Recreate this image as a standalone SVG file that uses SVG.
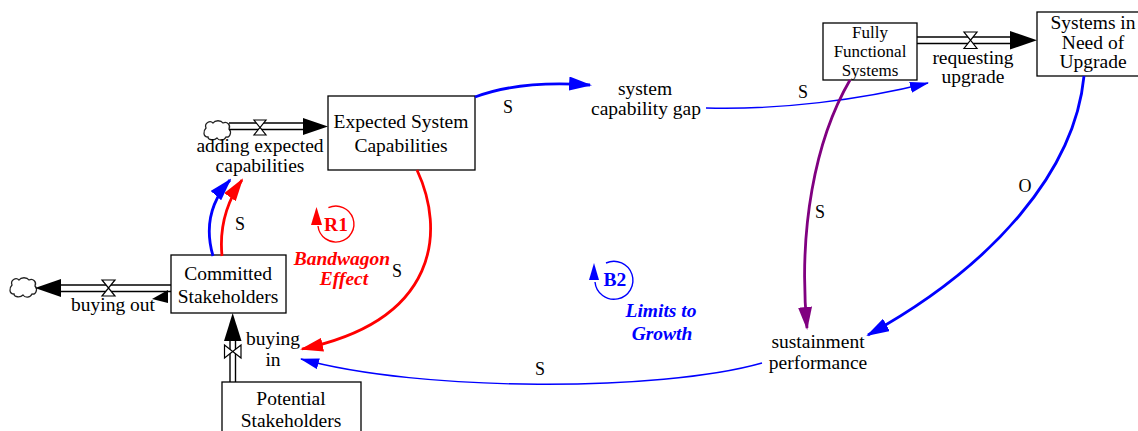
<svg xmlns="http://www.w3.org/2000/svg" width="1138" height="431" viewBox="0 0 1138 431">
<style>
text{font-family:"Liberation Serif","Times New Roman",serif;font-size:19.5px;fill:#000;text-anchor:middle}
.lbl{font-size:18px}
.tight{font-size:17px}
.box{fill:#fff;stroke:#000;stroke-width:1.3}
.pipe{stroke:#000;stroke-width:1.4;fill:none}
.valve{fill:#fff;stroke:#000;stroke-width:1.2}
.cloud{fill:#fff;stroke:#222;stroke-width:1.3}
.thick{fill:none;stroke-width:2.8}
.thin{fill:none;stroke-width:1.4}
.red{stroke:#ff0000}.blue{stroke:#0000ff}.purple{stroke:#800080}
.loopR{fill:#ff0000;font-weight:bold}
.loopB{fill:#0000ff;font-weight:bold}
.it{font-style:italic}
</style>
<defs>
<marker id="aBlue" markerUnits="userSpaceOnUse" viewBox="0 0 23 14" markerWidth="23" markerHeight="14" refX="21" refY="7" orient="auto"><path d="M0,0L23,7L0,14z" fill="#0000ff"/></marker>
<marker id="aRed" markerUnits="userSpaceOnUse" viewBox="0 0 23 14" markerWidth="23" markerHeight="14" refX="21" refY="7" orient="auto"><path d="M0,0L23,7L0,14z" fill="#ff0000"/></marker>
<marker id="aPurple" markerUnits="userSpaceOnUse" viewBox="0 0 23 14" markerWidth="23" markerHeight="14" refX="21" refY="7" orient="auto"><path d="M0,0L23,7L0,14z" fill="#800080"/></marker>
<marker id="aBlueThin" markerUnits="userSpaceOnUse" viewBox="0 0 19 11" markerWidth="19" markerHeight="11" refX="18" refY="5.5" orient="auto"><path d="M0,0L19,5.5L0,11z" fill="#0000ff"/></marker>
<path id="cloud" class="cloud" d="M4,8 C2,3 8,0 11,3 C13,0 19,0 21,3 C25,1 29,5 27,9 C30,12 28,18 24,17 C22,21 17,21 15,18 C12,21 6,20 6,17 C1,17 1,11 4,8 Z"/>
</defs>

<g id="flow-adding">
<use href="#cloud" x="202" y="120"/>
<line class="pipe" x1="229" y1="123" x2="305" y2="123"/>
<line class="pipe" x1="229" y1="129.5" x2="305" y2="129.5"/>
<path d="M303,118L328,126.5L303,135z" fill="#000"/>
<path class="valve" d="M254,120L266,120L260,127.5z M254,135L266,135L260,127.5z"/>
<text x="260" y="152">adding expected</text>
<text x="260" y="172">capabilities</text>
</g>

<g id="flow-buyingout">
<use href="#cloud" x="8" y="277"/>
<line class="pipe" x1="58" y1="285" x2="171" y2="285"/>
<line class="pipe" x1="58" y1="291.5" x2="171" y2="291.5"/>
<path d="M61,279L35,288L61,297z" fill="#000"/>
<path class="valve" d="M102,280L115,280L108.5,288z M102,296L115,296L108.5,288z"/>
<path d="M168,290L168,303L152,299z" fill="#000"/>
<text x="113" y="311">buying out</text>
</g>

<g id="flow-buyingin">
<line class="pipe" x1="230" y1="338" x2="230" y2="382"/>
<line class="pipe" x1="235.5" y1="338" x2="235.5" y2="382"/>
<path d="M224,341L232.7,313L241.5,341z" fill="#000"/>
<path class="valve" d="M224.5,345L224.5,358L232.7,351.5z M241,345L241,358L232.7,351.5z"/>
<text x="273" y="345">buying</text>
<text x="273" y="366">in</text>
</g>

<g id="flow-requesting">
<line class="pipe" x1="917" y1="37" x2="1012" y2="37"/>
<line class="pipe" x1="917" y1="43.5" x2="1012" y2="43.5"/>
<path d="M1010,31L1037,40.2L1010,49.5z" fill="#000"/>
<path class="valve" d="M964,32L977,32L970.5,40.2z M964,48.5L977,48.5L970.5,40.2z"/>
<text x="973" y="64">requesting</text>
<text x="973" y="83">upgrade</text>
</g>

<g id="node-expected">
<rect class="box" x="328" y="96" width="147" height="74"/>
<text x="401" y="128">Expected System</text>
<text x="401" y="152">Capabilities</text>
</g>

<g id="node-committed">
<rect class="box" x="171" y="255" width="115" height="58"/>
<text x="228" y="280">Committed</text>
<text x="228" y="303">Stakeholders</text>
</g>

<g id="node-potential">
<rect class="box" x="222" y="382" width="139" height="60"/>
<text x="291" y="405">Potential</text>
<text x="291" y="427">Stakeholders</text>
</g>

<g id="node-fully">
<rect class="box" x="823" y="23" width="94" height="57"/>
<text class="tight" x="870" y="38">Fully</text>
<text class="tight" x="870" y="57">Functional</text>
<text class="tight" x="870" y="76">Systems</text>
</g>

<g id="node-need">
<rect class="box" x="1037" y="12" width="110" height="64"/>
<text x="1093" y="29">Systems in</text>
<text x="1093" y="49">Need of</text>
<text x="1093" y="68">Upgrade</text>
</g>

<g id="node-gap">
<text x="645" y="95">system</text>
<text x="646" y="115">capability gap</text>
</g>

<g id="node-sustainment">
<text x="818" y="348">sustainment</text>
<text x="818" y="369">performance</text>
</g>

<g id="connectors">
<path class="thick blue" d="M475,97 Q520,80 590,85" marker-end="url(#aBlue)"/>
<path class="thick red" d="M417,170 C445,230 440,320 302,349" marker-end="url(#aRed)"/>
<path class="thin blue" d="M762,363 C660,392 420,392 301,359" marker-end="url(#aBlueThin)"/>
<path class="thick red" d="M222,256 C219,225 228,200 242,180" marker-end="url(#aRed)"/>
<path class="thick blue" d="M213,256 C204,225 212,200 230,180" marker-end="url(#aBlue)"/>
<path class="thin blue" d="M706,108 C780,110 860,100 928,83" marker-end="url(#aBlueThin)"/>
<path class="thick purple" d="M850,80 C815,140 798,230 807,328" marker-end="url(#aPurple)"/>
<path class="thick blue" d="M1084,76 C1075,170 995,265 868,335" marker-end="url(#aBlue)"/>
<text class="lbl" x="508" y="113">S</text>
<text class="lbl" x="803" y="98">S</text>
<text class="lbl" x="820" y="218">S</text>
<text class="lbl" x="1025" y="192">O</text>
<text class="lbl" x="240" y="230">S</text>
<text class="lbl" x="397" y="277">S</text>
<text class="lbl" x="540" y="375">S</text>
</g>

<g id="loop-R1">
<path d="M328.4,207.7 A18,18 0 1 1 318,226" fill="none" stroke="#ff0000" stroke-width="1.4"/>
<path d="M311,225L316.5,207L322,225z" fill="#ff0000"/>
<text class="loopR" x="336" y="231">R1</text>
<text class="loopR it" x="342" y="265">Bandwagon</text>
<text class="loopR it" x="344" y="285">Effect</text>
</g>

<g id="loop-B2">
<path d="M606,263 A19,19 0 1 1 595,282" fill="none" stroke="#0000ff" stroke-width="1.4"/>
<path d="M589,280L594,263L599,280z" fill="#0000ff"/>
<text class="loopB" x="615" y="286">B2</text>
<text class="loopB it" x="661" y="317">Limits to</text>
<text class="loopB it" x="662" y="340">Growth</text>
</g>
</svg>
